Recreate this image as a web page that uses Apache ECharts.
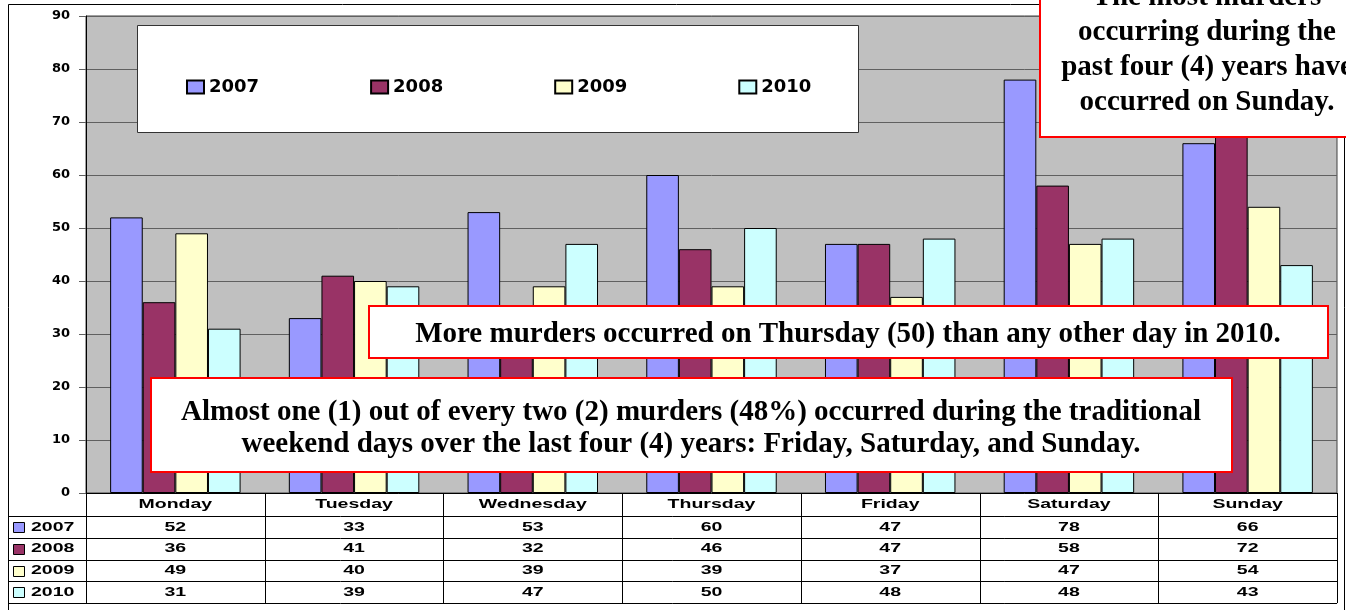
<!DOCTYPE html>
<html>
<head>
<meta charset="utf-8">
<title>Murders by day of week</title>
<script src="https://cdn.jsdelivr.net/npm/echarts@6/dist/echarts.min.js"></script>
<style>
  html, body { margin: 0; padding: 0; background: #fff; }
  #chart_box { width: 1346px; height: 610px; }
</style>
</head>
<body>
<div id="chart_box"></div>
<script>
// chart data
var days = ["Monday", "Tuesday", "Wednesday", "Thursday", "Friday", "Saturday", "Sunday"];
var years = ["2007", "2008", "2009", "2010"];
var data2007 = [52, 33, 53, 60, 47, 78, 66];
var data2008 = [36, 41, 32, 46, 47, 58, 72];
var data2009 = [49, 40, 39, 39, 37, 47, 54];
var data2010 = [31, 39, 47, 50, 48, 48, 43];
var yMin = 0, yMax = 90, yStep = 10;

// annotation texts
var noteSunday = ["The most murders", "occurring during the", "past four (4) years have", "occurred on Sunday."];
var noteThursday = ["More murders occurred on Thursday (50) than any other day in 2010."];
var noteWeekend = ["Almost one (1) out of every two (2) murders (48%) occurred during the traditional",
                   "weekend days over the last four (4) years: Friday, Saturday, and Sunday."];

var colors = ["#9999FF", "#993366", "#FFFFCC", "#CCFFFF"];
var allData = [data2007, data2008, data2009, data2010];

var mychart = echarts.init(document.getElementById("chart_box"));

var series = years.map(function (y, i) {
  return {
    name: y,
    type: "bar",
    data: allData[i],
    barGap: "0%",
    barCategoryGap: "27%",
    itemStyle: { color: colors[i], borderColor: "#000", borderWidth: 1 }
  };
});

var option = {
  animation: false,
  backgroundColor: "#fff",
  grid: {
    left: 86, right: 9, top: 16, bottom: 117,
    show: true, backgroundColor: "#C0C0C0", borderColor: "#404040", borderWidth: 1
  },
  legend: {
    data: years,
    left: 181, top: 73,
    z: 6,
    icon: "rect",
    itemWidth: 17, itemHeight: 13, itemGap: 111,
    textStyle: { fontFamily: "DejaVu Sans", fontWeight: "bold", fontSize: 18, color: "#000" }
  },
  xAxis: {
    type: "category",
    data: days,
    axisLine: { lineStyle: { color: "#000" } },
    axisTick: { show: false },
    axisLabel: { show: false }
  },
  yAxis: {
    type: "value",
    min: yMin, max: yMax, interval: yStep,
    axisLine: { show: true, lineStyle: { color: "#000" } },
    axisTick: { show: true, length: 7, lineStyle: { color: "#606060" } },
    axisLabel: { margin: 16, fontFamily: "DejaVu Sans", fontWeight: "bold", fontSize: 13, color: "#000" },
    splitLine: { lineStyle: { color: "#606060", width: 1 } }
  },
  series: series
};

mychart.setOption(option);

// table + boxes drawn after layout so positions come from the axis
var els = [];
var tableFont = 'bold 13px "Liberation Sans", Arial, sans-serif';
var noteFont = 'bold 29px "Liberation Serif", "Times New Roman", serif';

function txt(x, y, s, align, font, sx, z) {
  return {
    type: "text", x: x, y: y, scaleX: sx || 1, z: z || 5,
    style: { text: s, x: 0, y: 0, font: font, fill: "#000", textAlign: align || "center", textVerticalAlign: "middle" }
  };
}
function line(x1, y1, x2, y2, c) {
  return { type: "line", z: 5, shape: { x1: x1, y1: y1, x2: x2, y2: y2 }, style: { stroke: c || "#000", lineWidth: 1 } };
}

var y0 = mychart.convertToPixel({ yAxisIndex: 0 }, 0);
var c0 = mychart.convertToPixel({ xAxisIndex: 0 }, days[0]);
var c1 = mychart.convertToPixel({ xAxisIndex: 0 }, days[1]);
var band = c1 - c0;
var tblLeft = 8.5, tblRight = c0 + band * 6.5;
var headH = 23.3, rowH = 21.7;
var rowTop = y0 + headH;
var tblBottom = rowTop + rowH * years.length;

// outer chart frame
els.push({ type: "rect", z: 1, shape: { x: 8.5, y: 4.5, width: 1336, height: 610 }, style: { fill: null, stroke: "#000", lineWidth: 1 } });

// legend frame
els.push({ type: "rect", z: 3, shape: { x: 137.5, y: 25.5, width: 721, height: 107 }, style: { fill: "#fff", stroke: "#333", lineWidth: 1 } });

// table grid
for (var r = 0; r <= years.length; r++) {
  var yy = Math.round(rowTop + rowH * r) + 0.5;
  els.push(line(tblLeft, yy, tblRight, yy));
}
for (var k = 0; k <= days.length; k++) {
  var xx = Math.round(c0 - band / 2 + band * k) + 0.5;
  els.push(line(xx, y0, xx, tblBottom));
}
// header
days.forEach(function (d, i) {
  els.push(txt(c0 + band * i, y0 + headH / 2, d, "center", tableFont, 1.5));
});
// rows
years.forEach(function (y, r) {
  var cy = rowTop + rowH * r + rowH / 2;
  els.push({ type: "rect", z: 5, shape: { x: 13.5, y: Math.round(cy - 5) + 0.5, width: 11, height: 10 }, style: { fill: colors[r], stroke: "#000", lineWidth: 1 } });
  els.push(txt(31, cy, y, "left", tableFont, 1.5));
  allData[r].forEach(function (v, i) {
    els.push(txt(c0 + band * i, cy, String(v), "center", tableFont, 1.5));
  });
});

// annotation boxes
function noteBox(x, y, w, h, lines, cx, baseY, lh) {
  els.push({ type: "rect", z: 10, shape: { x: x, y: y, width: w, height: h }, style: { fill: "#fff", stroke: "#FF0000", lineWidth: 2 } });
  lines.forEach(function (s, i) {
    els.push({
      type: "text", z: 11, x: cx, y: baseY + lh * i,
      style: { text: s, x: 0, y: 0, font: noteFont, fill: "#000", textAlign: "center", textVerticalAlign: "bottom" }
    });
  });
}
noteBox(1040, -20, 330, 157, noteSunday, 1207, 12, 35);
noteBox(369, 306, 959, 52, noteThursday, 848, 349, 0);
noteBox(151, 378, 1081, 94, noteWeekend, 691, 427, 32);

mychart.setOption({ graphic: { elements: els } });
</script>
</body>
</html>
